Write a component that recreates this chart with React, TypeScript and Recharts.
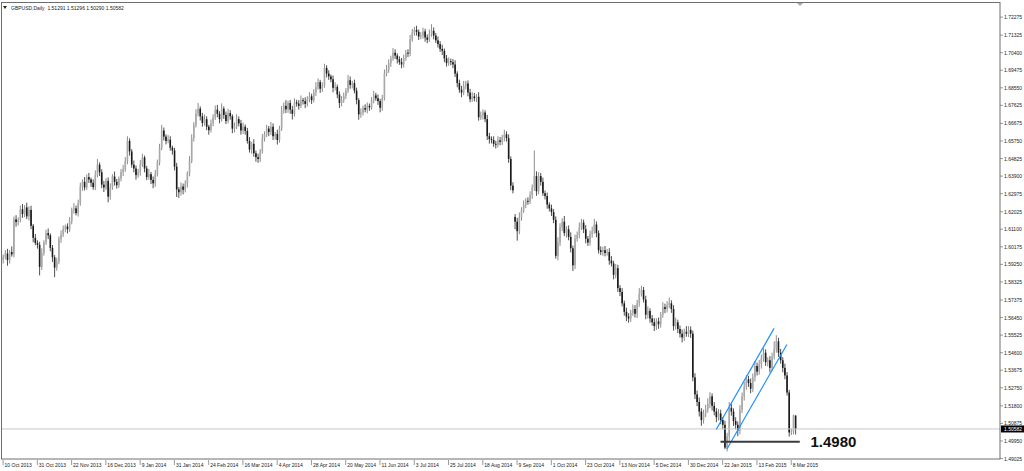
import React from "react";
import {
  ComposedChart, Bar, XAxis, YAxis, ReferenceLine, ReferenceDot,
} from "recharts";

const FONT = "'Liberation Sans', Arial, sans-serif";
const PIP = 0.0001;
const SLOTS = 466; // bars + empty chart shift area on the right

// daily closes, 10 Oct 2013 .. 10 Mar 2015
const closes = [
  1.5965, 1.5982, 1.5948, 1.5990, 1.5978, 1.6162, 1.6148, 1.6158, 1.6215, 1.6190,
  1.6225, 1.6178, 1.6212, 1.6128, 1.6065, 1.6038, 1.6028, 1.5912, 1.5985, 1.6040,
  1.6090, 1.6078, 1.6012, 1.5962, 1.5908, 1.5940, 1.6058, 1.6082, 1.6112, 1.6125,
  1.6110, 1.6152, 1.6212, 1.6220, 1.6195, 1.6248, 1.6335, 1.6360, 1.6330, 1.6385,
  1.6372, 1.6355, 1.6332, 1.6395, 1.6450, 1.6410, 1.6345, 1.6330, 1.6365, 1.6282,
  1.6330, 1.6388, 1.6360, 1.6342, 1.6378, 1.6410, 1.6425, 1.6470, 1.6575, 1.6520,
  1.6450, 1.6430, 1.6395, 1.6410, 1.6450, 1.6488, 1.6430, 1.6385, 1.6400, 1.6370,
  1.6352, 1.6400, 1.6462, 1.6540, 1.6630, 1.6598, 1.6575, 1.6582, 1.6540, 1.6525,
  1.6440, 1.6320, 1.6305, 1.6335, 1.6318, 1.6350, 1.6405, 1.6470, 1.6590, 1.6660,
  1.6720, 1.6745, 1.6705, 1.6670, 1.6690, 1.6650, 1.6632, 1.6668, 1.6700, 1.6740,
  1.6718, 1.6690, 1.6745, 1.6712, 1.6680, 1.6722, 1.6705, 1.6640, 1.6652, 1.6690,
  1.6668, 1.6630, 1.6650, 1.6628, 1.6575, 1.6530, 1.6560, 1.6510, 1.6490, 1.6480,
  1.6520, 1.6590, 1.6610, 1.6640, 1.6622, 1.6650, 1.6600, 1.6612, 1.6580, 1.6640,
  1.6735, 1.6760, 1.6742, 1.6775, 1.6740, 1.6718, 1.6778, 1.6772, 1.6760, 1.6790,
  1.6785, 1.6770, 1.6795, 1.6810, 1.6790, 1.6830, 1.6860, 1.6885, 1.6850, 1.6868,
  1.6960, 1.6930, 1.6915, 1.6900, 1.6855, 1.6860, 1.6820, 1.6775, 1.6790, 1.6812,
  1.6840, 1.6895, 1.6870, 1.6880, 1.6840, 1.6790, 1.6715, 1.6725, 1.6748, 1.6740,
  1.6760, 1.6752, 1.6790, 1.6815, 1.6800, 1.6785, 1.6750, 1.6800, 1.6930, 1.6950,
  1.6985, 1.7010, 1.7040, 1.7025, 1.7005, 1.6990, 1.6978, 1.7010, 1.7040, 1.7035,
  1.7110, 1.7145, 1.7160, 1.7150, 1.7125, 1.7130, 1.7152, 1.7120, 1.7108, 1.7140,
  1.7155, 1.7130, 1.7105, 1.7085, 1.7060, 1.7050, 1.7010, 1.6985, 1.6995, 1.6990,
  1.6978, 1.6930, 1.6880, 1.6845, 1.6830, 1.6865, 1.6878, 1.6830, 1.6795, 1.6810,
  1.6800, 1.6808, 1.6700, 1.6710, 1.6725, 1.6690, 1.6600, 1.6585, 1.6580, 1.6560,
  1.6555, 1.6578, 1.6570, 1.6595, 1.6610, 1.6590, 1.6480, 1.6340, 1.6315, 1.6150,
  1.6100, 1.6175, 1.6210, 1.6240, 1.6260, 1.6255, 1.6290, 1.6330, 1.6390, 1.6310,
  1.6390, 1.6360, 1.6300, 1.6285, 1.6240, 1.6220, 1.6200, 1.6160, 1.5970, 1.6040,
  1.6120, 1.6150, 1.6090, 1.6110, 1.6070, 1.6010, 1.5920, 1.6060, 1.6080, 1.6120,
  1.6145, 1.6110, 1.6060, 1.6040, 1.6085, 1.6100, 1.6135, 1.6090, 1.6000, 1.5990,
  1.6000, 1.5985, 1.5990, 1.5945, 1.5930, 1.5870, 1.5905, 1.5800, 1.5780, 1.5720,
  1.5675, 1.5650, 1.5640, 1.5670, 1.5690, 1.5665, 1.5720, 1.5770, 1.5790, 1.5740,
  1.5660, 1.5680, 1.5640, 1.5620, 1.5600, 1.5625, 1.5610, 1.5660, 1.5700, 1.5690,
  1.5710, 1.5720, 1.5690, 1.5600, 1.5620, 1.5585, 1.5560, 1.5540, 1.5570, 1.5560,
  1.5580, 1.5560, 1.5330, 1.5240, 1.5200, 1.5150, 1.5105, 1.5140, 1.5160, 1.5190,
  1.5230, 1.5180, 1.5150, 1.5120, 1.5140, 1.5105, 1.5080, 1.4960, 1.5020, 1.5170,
  1.5150, 1.5100, 1.5080, 1.5050, 1.5160, 1.5230, 1.5280, 1.5320, 1.5300, 1.5270,
  1.5330, 1.5390, 1.5360, 1.5400, 1.5430, 1.5460, 1.5410, 1.5420, 1.5380, 1.5440,
  1.5480, 1.5520, 1.5460, 1.5420, 1.5380, 1.5340, 1.5250, 1.5040, 1.5045, 1.51291,
  1.50582,
];

// upper / lower shadows in pips beyond the body
const upWick = [
  12, 18, 25, 10, 30, 15, 22, 14, 20, 28, 12, 25, 18, 22, 10, 20, 14, 16, 25, 12,
  18, 24, 10, 15, 12, 20, 14, 22, 18, 10, 16, 22, 12, 28, 15, 18, 20, 12, 25, 14,
  22, 10, 18, 25, 30, 12, 16, 20, 14, 18, 22, 12, 26, 15, 10, 18, 24, 20, 25, 14,
  12, 22, 16, 18, 25, 20, 10, 14, 28, 12, 18, 22, 15, 20, 30, 16, 12, 24, 18, 10,
  14, 20, 12, 22, 16, 18, 10, 25, 20, 14, 22, 30, 12, 18, 24, 15, 10, 20, 16, 22,
  25, 14, 28, 12, 18, 22, 15, 10, 20, 26, 14, 18, 22, 12, 16, 20, 10, 24, 14, 18,
  12, 22, 16, 20, 14, 25, 18, 10, 22, 15, 24, 18, 30, 12, 16, 20, 22, 14, 18, 25,
  12, 20, 16, 22, 14, 18, 25, 20, 12, 16, 22, 14, 18, 10, 20, 24, 12, 16, 22, 18,
  14, 28, 20, 12, 18, 16, 10, 22, 14, 20, 18, 12, 16, 24, 14, 20, 12, 18, 22, 26,
  20, 14, 24, 18, 12, 16, 22, 20, 14, 18, 24, 20, 16, 22, 12, 18, 20, 14, 16, 22,
  35, 18, 14, 20, 16, 22, 12, 18, 20, 14, 16, 22, 12, 18, 20, 26, 14, 16, 20, 22,
  18, 14, 24, 20, 16, 12, 22, 18, 14, 20, 16, 22, 18, 12, 24, 16, 20, 14, 18, 15,
  20, 24, 16, 22, 14, 18, 20, 16, 135, 25, 20, 16, 22, 14, 18, 12, 20, 16, 18, 28,
  22, 18, 30, 16, 20, 24, 14, 22, 18, 26, 20, 16, 22, 14, 18, 24, 30, 16, 14, 20,
  18, 22, 16, 20, 24, 14, 22, 18, 16, 20, 14, 22, 18, 16, 24, 20, 18, 30, 22, 16,
  20, 24, 14, 18, 22, 16, 20, 14, 26, 18, 22, 30, 16, 20, 24, 14, 18, 22, 16, 30,
  20, 18, 16, 22, 20, 24, 18, 20, 26, 30, 22, 16, 20, 18, 24, 20, 16, 22, 18, 30,
  22, 16, 20, 18, 24, 20, 26, 22, 18, 24, 20, 26, 18, 22, 20, 24, 18, 16, 22, 20,
  40, 32, 18, 20, 16, 22, 18, 14, 16, 5, 0.5,
];
const downWick = [
  20, 14, 30, 18, 12, 16, 24, 18, 12, 20, 16, 14, 22, 18, 24, 12, 20, 45, 16, 14,
  12, 20, 18, 24, 50, 16, 14, 20, 12, 18, 22, 14, 16, 20, 12, 18, 14, 22, 16, 12,
  18, 22, 14, 16, 12, 20, 18, 24, 14, 30, 16, 12, 20, 18, 14, 16, 20, 12, 18, 22,
  16, 20, 24, 14, 18, 12, 20, 16, 14, 22, 26, 18, 12, 16, 14, 20, 18, 12, 16, 22,
  20, 40, 30, 18, 24, 14, 20, 16, 12, 18, 14, 16, 22, 20, 14, 18, 24, 12, 16, 14,
  18, 22, 14, 20, 16, 12, 18, 24, 20, 14, 16, 22, 18, 20, 14, 16, 22, 18, 24, 20,
  16, 12, 18, 14, 22, 16, 20, 18, 24, 14, 12, 16, 20, 18, 22, 30, 14, 16, 20, 12,
  18, 22, 14, 16, 20, 12, 18, 14, 22, 16, 12, 20, 18, 16, 24, 14, 20, 26, 18, 14,
  16, 12, 20, 18, 14, 22, 28, 18, 16, 14, 20, 18, 12, 16, 14, 20, 24, 16, 12, 14,
  16, 20, 12, 18, 22, 14, 20, 16, 12, 18, 14, 12, 16, 20, 18, 14, 16, 22, 18, 12,
  16, 20, 14, 18, 16, 22, 20, 18, 14, 16, 20, 18, 22, 16, 24, 14, 18, 20, 16, 14,
  16, 20, 18, 14, 22, 16, 20, 24, 18, 16, 20, 14, 18, 16, 22, 18, 20, 24, 16, 40,
  50, 16, 20, 14, 18, 16, 12, 20, 18, 24, 16, 20, 14, 18, 22, 16, 20, 18, 15, 24,
  18, 20, 16, 24, 18, 22, 30, 20, 16, 18, 14, 20, 24, 18, 16, 20, 14, 22, 18, 16,
  20, 18, 14, 22, 16, 24, 18, 20, 22, 16, 20, 24, 22, 18, 16, 20, 22, 18, 14, 16,
  24, 20, 22, 18, 26, 20, 24, 18, 16, 22, 18, 16, 20, 24, 18, 22, 20, 26, 18, 16,
  18, 22, 20, 24, 22, 26, 30, 18, 20, 16, 22, 24, 20, 26, 18, 22, 24, 8, 20, 24,
  22, 26, 24, 30, 20, 18, 22, 16, 20, 24, 18, 22, 20, 16, 24, 18, 20, 22, 24, 18,
  16, 20, 22, 18, 24, 20, 16, 22, 14, 15, 29.2,
];
const firstOpen = 1.5950;
const gapOpens: Record<number, number> = { 239: 1.6175 };

const dateLabels = [
  "10 Oct 2013", "31 Oct 2013", "22 Nov 2013", "16 Dec 2013", "9 Jan 2014", "31 Jan 2014",
  "24 Feb 2014", "16 Mar 2014", "4 Apr 2014", "28 Apr 2014", "20 May 2014", "11 Jun 2014",
  "3 Jul 2014", "25 Jul 2014", "18 Aug 2014", "9 Sep 2014", "1 Oct 2014", "23 Oct 2014",
  "13 Nov 2014", "5 Dec 2014", "30 Dec 2014", "22 Jan 2015", "13 Feb 2015", "8 Mar 2015",
];
const LABEL_EVERY = 16;

const priceTicks = [
  1.72275, 1.71325, 1.704, 1.69475, 1.6855, 1.67625, 1.66675, 1.6575, 1.64825, 1.639,
  1.62975, 1.62025, 1.611, 1.60175, 1.5925, 1.58325, 1.57375, 1.5645, 1.55525, 1.546,
  1.53675, 1.5275, 1.518, 1.50875, 1.4995, 1.49025,
];

// hand drawn channel and support line
const channelUpper = [{ x: 333, y: 1.5055 }, { x: 360, y: 1.5588 }];
const channelLower = [{ x: 338, y: 1.4953 }, { x: 366, y: 1.5503 }];
const supportLine = [{ x: 335, y: 1.4991 }, { x: 372, y: 1.4991 }];
const supportText = "1.4980";

const data = Array.from({ length: SLOTS }, (_, i) => {
  if (i >= closes.length) return { i };
  const c = closes[i];
  const o = i === 0 ? firstOpen : gapOpens[i] ?? closes[i - 1];
  const h = Math.max(o, c) + upWick[i] * PIP;
  const l = Math.min(o, c) - downWick[i] * PIP;
  return { i, o, h, l, c, range: [l, h] };
});
const last = data[closes.length - 1] as any;

function Candle(props: any) {
  const { x, y, width, height, payload } = props;
  if (!payload || payload.h == null) return null;
  const top = Math.min(y, y + height);
  const full = Math.abs(height);
  const cx = x + width / 2;
  const span = payload.h - payload.l;
  const k = span > 0 ? full / span : 0;
  const py = (v: number) => top + (payload.h - v) * k;
  const bTop = py(Math.max(payload.o, payload.c));
  const bBot = py(Math.min(payload.o, payload.c));
  const bull = payload.c >= payload.o;
  return (
    <g>
      <line x1={cx} x2={cx} y1={top} y2={top + full} stroke={bull ? "#707070" : "#222"} strokeWidth={0.8} />
      <rect x={cx - 0.8} y={bTop} width={1.6} height={Math.max(bBot - bTop, 0.7)} fill={bull ? "#a8a8a8" : "#1a1a1a"} />
    </g>
  );
}

function XTick({ x, y, payload }: any) {
  const v = payload.value;
  const label = v % LABEL_EVERY === 0 ? dateLabels[v / LABEL_EVERY] : undefined;
  if (!label) return null;
  return (
    <g>
      <line x1={x} x2={x} y1={y + 1} y2={y + 6} stroke="#555" strokeWidth={0.6} />
      <text x={x + 1.5} y={y + 5.5} fontSize={5} fontFamily={FONT} fill="#222" dominantBaseline="central">{label}</text>
    </g>
  );
}

function YTick({ x, y, payload }: any) {
  return (
    <g>
      <line x1={x} x2={x + 3} y1={y} y2={y} stroke="#555" strokeWidth={0.6} />
      <text x={x + 4} y={y} fontSize={5} fontFamily={FONT} fill="#222" dominantBaseline="central">{payload.value.toFixed(5)}</text>
    </g>
  );
}

function PriceTag({ viewBox }: any) {
  if (!viewBox) return null;
  const x = viewBox.x + viewBox.width;
  return (
    <g>
      <rect x={x + 1} y={viewBox.y - 3.5} width={23} height={7} fill="#000" />
      <text x={x + 4} y={viewBox.y} fontSize={5} fontFamily={FONT} fill="#fff" dominantBaseline="central">{last.c.toFixed(5)}</text>
    </g>
  );
}

export default function App() {
  const title = `GBPUSD,Daily  ${last.o.toFixed(5)} ${last.h.toFixed(5)} ${last.l.toFixed(5)} ${last.c.toFixed(5)}`;
  return (
    <div style={{ position: "absolute", left: 0, top: 0, width: 1024, height: 471, background: "#fff" }}>
      <ComposedChart width={1024} height={471} data={data} margin={{ top: 2, right: 0, bottom: 0, left: 2 }}>
        <XAxis dataKey="i" type="category" height={12} interval={LABEL_EVERY - 1} tick={<XTick />}
          tickLine={false} axisLine={false} tickSize={0} tickMargin={0} />
        <YAxis orientation="right" width={24} type="number" domain={[1.49, 1.7307]} allowDataOverflow
          ticks={priceTicks} interval={0} tick={<YTick />} tickLine={false} axisLine={false} tickSize={0} tickMargin={0} />
        <ReferenceLine y={last.c} stroke="#c8c8c8" strokeWidth={1} label={<PriceTag />} />
        <Bar dataKey="range" shape={<Candle />} isAnimationActive={false} />
        <ReferenceLine segment={channelUpper} stroke="#1e8fff" strokeWidth={1.2} ifOverflow="visible" />
        <ReferenceLine segment={channelLower} stroke="#1e8fff" strokeWidth={1.2} ifOverflow="visible" />
        <ReferenceLine segment={supportLine} stroke="#3a3a3a" strokeWidth={2} ifOverflow="visible" />
        <ReferenceDot x={377} y={supportLine[0].y} r={0} ifOverflow="visible"
          shape={(p: any) => (
            <text x={p.cx} y={p.cy} fontSize={15} fontWeight="bold" fontFamily={FONT} fill="#111" dominantBaseline="central">{supportText}</text>
          )} />
      </ComposedChart>
      <svg width={1024} height={471} style={{ position: "absolute", left: 0, top: 0, pointerEvents: "none" }}>
        <rect x={1.5} y={2.5} width={998.5} height={456.5} fill="none" stroke="#6e6e6e" strokeWidth={1} />
        <polygon points="3,6 7,6 5,9" fill="#222" />
        <text x={11} y={7.5} fontSize={5} fontFamily={FONT} fill="#222" dominantBaseline="central" style={{ whiteSpace: "pre" }}>{title}</text>
        <polygon points="797,3 803,3 800,6" fill="#aaa" />
      </svg>
    </div>
  );
}
